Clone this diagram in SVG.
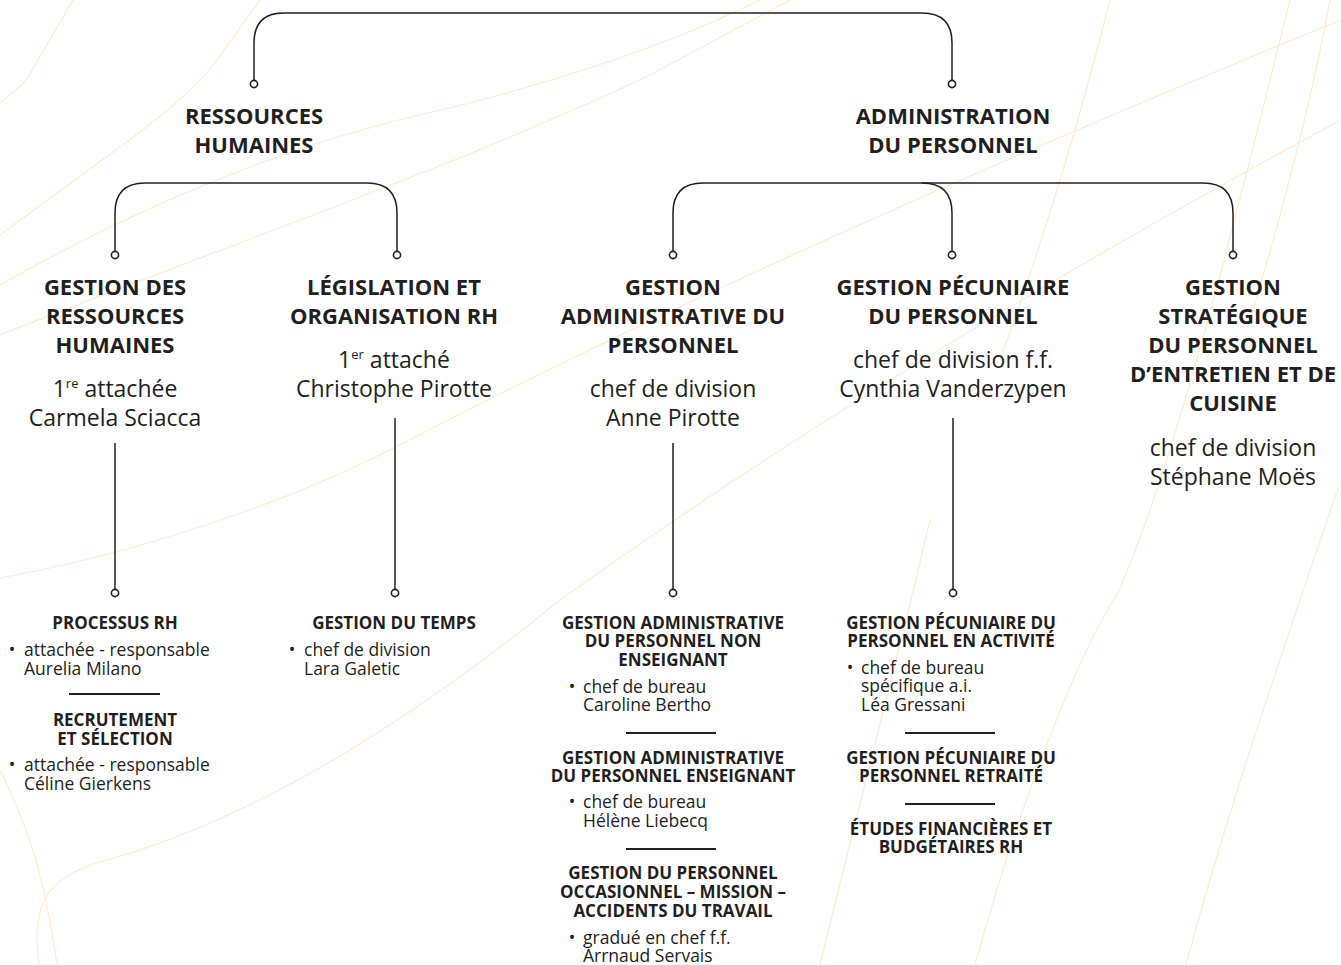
<svg xmlns="http://www.w3.org/2000/svg" width="1341" height="965" viewBox="0 0 1341 965">
<style>
.bg{fill:none;stroke:#fdebd3;stroke-width:1.2}
.con{fill:none;stroke:#231f20;stroke-width:1.5}
.dot{fill:#ffffff;stroke:#231f20;stroke-width:1.6}
.sep{stroke:#231f20;stroke-width:2}
text{fill:#231f20;font-family:"Open Sans","Noto Sans","Liberation Sans",sans-serif}
.t1{font-size:22px;font-weight:700;text-anchor:middle}
.r1{font-size:23px;font-weight:400;text-anchor:middle}
.t3{font-size:17px;font-weight:700;text-anchor:middle}
.r3{font-size:17.5px;font-weight:400}
.b{font-size:17.5px;text-anchor:middle}
.sup{font-size:13px}
</style>
<rect width="1341" height="965" fill="#ffffff"/>
<g id="background">
<path class="bg" d="M0,103 L25,82 L73,0"/>
<path class="bg" d="M0,235 C100,160 180,110 217,60 L260,0"/>
<path class="bg" d="M0,285 C150,200 300,140 450,108 C600,70 700,30 760,0"/>
<path class="bg" d="M0,335 C200,255 450,170 650,75 L790,0"/>
<path class="bg" d="M0,578 C100,560 250,520 390,450 C600,340 900,200 1341,20"/>
<path class="bg" d="M39,965 C30,900 50,875 107,860 C250,820 400,730 560,600 C700,500 950,330 1341,120"/>
<path class="bg" d="M0,770 C30,830 45,880 57,965"/>
<path class="bg" d="M975,965 C1020,800 1080,650 1118,593 C1180,450 1240,200 1290,0"/>
<path class="bg" d="M1186,965 C1230,800 1300,600 1341,480"/>
<path class="bg" d="M1000,360 C1040,250 1080,120 1110,0"/>
<path class="bg" d="M1250,320 C1280,220 1310,110 1330,0"/>
<path class="bg" d="M820,965 C860,800 900,650 930,520"/>
</g>
<g id="connectors">
<path class="con" d="M254,80 V43 Q254,13 284,13 H922 Q952,13 952,43 V80"/>
<path class="con" d="M115,251 V213 Q115,183 145,183 H367 Q397,183 397,213 V251"/>
<path class="con" d="M673,251 V213 Q673,183 703,183 H1203 Q1233,183 1233,213 V251"/>
<path class="con" d="M922,183 Q952,183 952,213 V251"/>
<line class="con" x1="115" y1="443" x2="115" y2="589"/>
<line class="con" x1="395" y1="418" x2="395" y2="589"/>
<line class="con" x1="673" y1="443" x2="673" y2="589"/>
<line class="con" x1="953" y1="418" x2="953" y2="589"/>
<circle class="dot" cx="254" cy="84" r="3.6"/>
<circle class="dot" cx="952" cy="84" r="3.6"/>
<circle class="dot" cx="115" cy="255" r="3.6"/>
<circle class="dot" cx="397" cy="255" r="3.6"/>
<circle class="dot" cx="673" cy="255" r="3.6"/>
<circle class="dot" cx="952" cy="255" r="3.6"/>
<circle class="dot" cx="1233" cy="255" r="3.6"/>
<circle class="dot" cx="115" cy="593" r="3.6"/>
<circle class="dot" cx="395" cy="593" r="3.6"/>
<circle class="dot" cx="673" cy="593" r="3.6"/>
<circle class="dot" cx="953" cy="593" r="3.6"/>
</g>
<g id="rh">
<text class="t1" x="254" y="124">RESSOURCES</text>
<text class="t1" x="254" y="153">HUMAINES</text>
</g>
<g id="adm">
<text class="t1" x="953" y="124">ADMINISTRATION</text>
<text class="t1" x="953" y="153">DU PERSONNEL</text>
</g>
<g id="grh">
<text class="t1" x="115" y="295">GESTION DES</text>
<text class="t1" x="115" y="324">RESSOURCES</text>
<text class="t1" x="115" y="353">HUMAINES</text>
<text class="r1" x="115" y="397">1<tspan class="sup" dy="-9">re</tspan><tspan dy="9"> attachée</tspan></text>
<text class="r1" x="115" y="426">Carmela Sciacca</text>
</g>
<g id="leg">
<text class="t1" x="394" y="295">LÉGISLATION ET</text>
<text class="t1" x="394" y="324">ORGANISATION RH</text>
<text class="r1" x="394" y="368">1<tspan class="sup" dy="-9">er</tspan><tspan dy="9"> attaché</tspan></text>
<text class="r1" x="394" y="397">Christophe Pirotte</text>
</g>
<g id="gap">
<text class="t1" x="673" y="295">GESTION</text>
<text class="t1" x="673" y="324">ADMINISTRATIVE DU</text>
<text class="t1" x="673" y="353">PERSONNEL</text>
<text class="r1" x="673" y="397">chef de division</text>
<text class="r1" x="673" y="426">Anne Pirotte</text>
</g>
<g id="gpp">
<text class="t1" x="953" y="295">GESTION PÉCUNIAIRE</text>
<text class="t1" x="953" y="324">DU PERSONNEL</text>
<text class="r1" x="953" y="368">chef de division f.f.</text>
<text class="r1" x="953" y="397">Cynthia Vanderzypen</text>
</g>
<g id="gsp">
<text class="t1" x="1233" y="295">GESTION</text>
<text class="t1" x="1233" y="324">STRATÉGIQUE</text>
<text class="t1" x="1233" y="353">DU PERSONNEL</text>
<text class="t1" x="1233" y="382">D’ENTRETIEN ET DE</text>
<text class="t1" x="1233" y="411">CUISINE</text>
<text class="r1" x="1233" y="456">chef de division</text>
<text class="r1" x="1233" y="485">Stéphane Moës</text>
</g>
<g id="processus">
<text class="t3" x="115" y="629">PROCESSUS RH</text>
<text class="b" x="12" y="655.5">•</text>
<text class="r3" x="24" y="655.5">attachée - responsable</text>
<text class="r3" x="24" y="674.5">Aurelia Milano</text>
<line class="sep" x1="69" y1="694" x2="160" y2="694"/>
</g>
<g id="recrutement">
<text class="t3" x="115" y="726">RECRUTEMENT</text>
<text class="t3" x="115" y="745">ET SÉLECTION</text>
<text class="b" x="12" y="771">•</text>
<text class="r3" x="24" y="771">attachée - responsable</text>
<text class="r3" x="24" y="790">Céline Gierkens</text>
</g>
<g id="temps">
<text class="t3" x="394" y="629">GESTION DU TEMPS</text>
<text class="b" x="292" y="655.5">•</text>
<text class="r3" x="304" y="655.5">chef de division</text>
<text class="r3" x="304" y="674.5">Lara Galetic</text>
</g>
<g id="gap-ne">
<text class="t3" x="673" y="629">GESTION ADMINISTRATIVE</text>
<text class="t3" x="673" y="647">DU PERSONNEL NON</text>
<text class="t3" x="673" y="666">ENSEIGNANT</text>
<text class="b" x="572" y="693">•</text>
<text class="r3" x="583" y="693">chef de bureau</text>
<text class="r3" x="583" y="711">Caroline Bertho</text>
<line class="sep" x1="626" y1="733" x2="716" y2="733"/>
</g>
<g id="gap-e">
<text class="t3" x="673" y="764">GESTION ADMINISTRATIVE</text>
<text class="t3" x="673" y="782">DU PERSONNEL ENSEIGNANT</text>
<text class="b" x="572" y="808">•</text>
<text class="r3" x="583" y="808">chef de bureau</text>
<text class="r3" x="583" y="827">Hélène Liebecq</text>
<line class="sep" x1="626" y1="849" x2="716" y2="849"/>
</g>
<g id="gap-occ">
<text class="t3" x="673" y="879">GESTION DU PERSONNEL</text>
<text class="t3" x="673" y="898">OCCASIONNEL – MISSION –</text>
<text class="t3" x="673" y="917">ACCIDENTS DU TRAVAIL</text>
<text class="b" x="572" y="944">•</text>
<text class="r3" x="583" y="944">gradué en chef f.f.</text>
<text class="r3" x="583" y="962">Arrnaud Servais</text>
</g>
<g id="gpp-act">
<text class="t3" x="951" y="629">GESTION PÉCUNIAIRE DU</text>
<text class="t3" x="951" y="647">PERSONNEL EN ACTIVITÉ</text>
<text class="b" x="850" y="674">•</text>
<text class="r3" x="861" y="674">chef de bureau</text>
<text class="r3" x="861" y="692">spécifique a.i.</text>
<text class="r3" x="861" y="711">Léa Gressani</text>
<line class="sep" x1="905" y1="733" x2="995" y2="733"/>
</g>
<g id="gpp-ret">
<text class="t3" x="951" y="764">GESTION PÉCUNIAIRE DU</text>
<text class="t3" x="951" y="782">PERSONNEL RETRAITÉ</text>
<line class="sep" x1="905" y1="804" x2="995" y2="804"/>
</g>
<g id="etudes">
<text class="t3" x="951" y="835">ÉTUDES FINANCIÈRES ET</text>
<text class="t3" x="951" y="853">BUDGÉTAIRES RH</text>
</g>
</svg>
